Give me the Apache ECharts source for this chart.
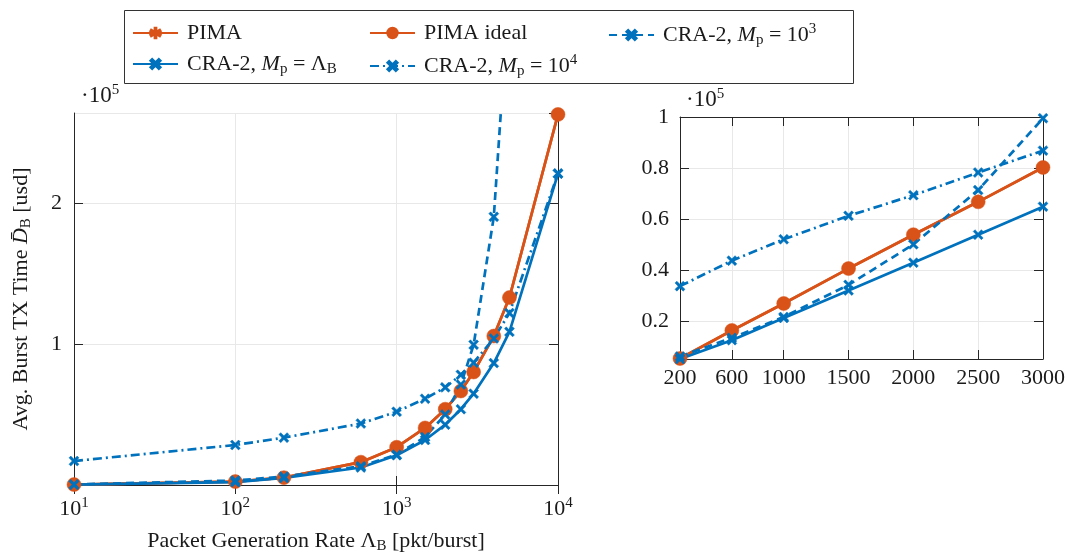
<!DOCTYPE html>
<html><head><meta charset="utf-8">
<script src="https://cdn.jsdelivr.net/npm/echarts@6/dist/echarts.min.js"></script>
<style>html,body{margin:0;padding:0;background:#fff}#c{width:1067px;height:554px}</style>
</head><body><div id="c"></div>
<script>
// ---------- data (values in units of 1e5 usd) ----------
const rates       = [10, 100, 200, 600, 1000, 1500, 2000, 2500, 3000, 4000, 5000, 10000];
const pima        = [0.003, 0.024, 0.052, 0.162, 0.268, 0.405, 0.538, 0.667, 0.802, 1.057, 1.33, 2.63];
const pimaIdeal   = [0.003, 0.024, 0.052, 0.162, 0.268, 0.405, 0.538, 0.667, 0.802, 1.057, 1.33, 2.63];
const craLambda   = [0.002, 0.020, 0.050, 0.124, 0.211, 0.319, 0.428, 0.538, 0.648, 0.865, 1.087, 2.21];
const cra1e3      = [0.004, 0.032, 0.060, 0.133, 0.215, 0.341, 0.500, 0.713, 0.995, 1.903, 3.55];
const cra1e4      = [0.170, 0.284, 0.336, 0.436, 0.520, 0.612, 0.693, 0.782, 0.868, 1.040, 1.220, 2.21];
const zoomRange   = [200, 3000];
const zoomXTicks  = [200, 600, 1000, 1500, 2000, 2500, 3000];
const zoomYTicks  = [0.2, 0.4, 0.6, 0.8, 1.0];
const leftYTicksInterval = 1;

const names = {
  pima: 'PIMA', ideal: 'PIMA ideal', c3: 'CRA-2, Mp = 10^3', cl: 'CRA-2, Mp = LambdaB', c4: 'CRA-2, Mp = 10^4'
};
const legendRich = {
  [names.pima]: 'PIMA',
  [names.ideal]: 'PIMA ideal',
  [names.c3]: 'CRA-2, {i|M}{sub|p} = 10{sup|3}',
  [names.cl]: 'CRA-2, {i|M}{sub|p} = Λ{sub|B}',
  [names.c4]: 'CRA-2, {i|M}{sub|p} = 10{sup|4}'
};

// ---------- styles ----------
const FONT = 'Liberation Serif';
const FS = 22;
const TXT = '#1a1a1a';
const AX = '#262626';
const GRIDC = '#e8e8e8';
const BLUE = '#0072BD';
const ORANGE = '#D95319';
const rich = {
  i:   {fontFamily: FONT, fontStyle: 'italic', fontSize: FS, color: TXT},
  sub: {fontFamily: FONT, fontSize: 15, color: TXT, padding: [10, 0, 0, 0]},
  sup: {fontFamily: FONT, fontSize: 15, color: TXT, padding: [0, 0, 11, 0]}
};
const CROSS = 'path://M0,1.8L1.8,0L5,3.2L8.2,0L10,1.8L6.8,5L10,8.2L8.2,10L5,6.8L1.8,10L0,8.2L3.2,5Z';
function asterisk() {
  const w = 0.8, L = 5, pts = [];
  for (let k = 0; k < 6; k++) {
    const th = (90 + 60 * k) * Math.PI / 180;
    const dx = Math.cos(th), dy = Math.sin(th), px = -dy, py = dx;
    pts.push([5 + L * dx - w * px, 5 + L * dy - w * py]);
    pts.push([5 + L * dx + w * px, 5 + L * dy + w * py]);
    const ti = th + Math.PI / 6;
    pts.push([5 + 2 * w * Math.cos(ti), 5 + 2 * w * Math.sin(ti)]);
  }
  return 'path://M' + pts.map(p => p[0].toFixed(3) + ',' + p[1].toFixed(3)).join('L') + 'Z';
}
const STAR = asterisk();

function pairs(xs, ys, lo, hi) {
  const out = [];
  for (let i = 0; i < xs.length; i++) {
    if (ys[i] === undefined) continue;
    if (lo !== undefined && (xs[i] < lo || xs[i] > hi)) continue;
    out.push([xs[i], ys[i]]);
  }
  return out;
}

const defs = [
  {name: names.pima,  ys: pima,      color: ORANGE, symbol: STAR,  size: 11, type: 'solid'},
  {name: names.ideal, ys: pimaIdeal, color: ORANGE, symbol: 'circle', size: 14, type: 'solid'},
  {name: names.c3,    ys: cra1e3,    color: BLUE,   symbol: CROSS, size: 10, type: [8, 5]},
  {name: names.cl,    ys: craLambda, color: BLUE,   symbol: CROSS, size: 10, type: 'solid'},
  {name: names.c4,    ys: cra1e4,    color: BLUE,   symbol: CROSS, size: 10, type: [9, 4, 2, 4]}
];

const series = [];
defs.forEach(d => {
  [0, 1].forEach(g => {
    series.push({
      name: d.name, type: 'line',
      xAxisIndex: g === 0 ? 0 : 2, yAxisIndex: g === 0 ? 0 : 2,
      data: g === 0 ? pairs(rates, d.ys) : pairs(rates, d.ys, zoomRange[0], zoomRange[1]),
      symbol: d.symbol, symbolSize: d.size, showAllSymbol: true,
      itemStyle: {color: d.color, borderColor: d.color, borderWidth: 0.5},
      lineStyle: {color: d.color, width: 2.7, type: d.type},
      clip: true, z: 3
    });
  });
});

const axisCommon = {
  axisLine: {show: true, lineStyle: {color: AX, width: 1}},
  axisTick: {show: true, inside: true, length: 9, lineStyle: {color: AX, width: 1}},
  axisLabel: {fontFamily: FONT, fontSize: FS, color: TXT}
};
function mirror(base, pos) {
  return Object.assign({}, base, {
    position: pos, name: '',
    axisLabel: {show: false},
    splitLine: {show: false}
  });
}

const xLeft = {
  gridIndex: 0, type: 'log', logBase: 10, min: 10, max: 10000,
  axisLine: axisCommon.axisLine, axisTick: axisCommon.axisTick,
  axisLabel: Object.assign({}, axisCommon.axisLabel, {
    margin: 11, showMinLabel: true, showMaxLabel: true,
    formatter: v => '10{sup|' + Math.round(Math.log10(v)) + '}', rich: rich
  }),
  minorTick: {show: false},
  splitLine: {show: true, lineStyle: {color: GRIDC, width: 1}},
  name: 'Packet Generation Rate Λ{sub|B} [pkt/burst]',
  nameLocation: 'middle', nameGap: 44,
  nameTextStyle: {fontFamily: FONT, fontSize: FS, color: TXT, rich: rich}
};
const yLeft = {
  gridIndex: 0, type: 'value', min: 0, max: 2.64, interval: leftYTicksInterval,
  axisLine: axisCommon.axisLine, axisTick: axisCommon.axisTick,
  axisLabel: Object.assign({}, axisCommon.axisLabel, {
    margin: 12, showMaxLabel: false,
    formatter: v => (v > 0 && Number.isInteger(v) ? String(v) : '')
  }),
  splitLine: {show: true, lineStyle: {color: GRIDC, width: 1}},
  name: 'Avg. Burst TX Time {i|D̄}{sub|B} [usd]',
  nameLocation: 'middle', nameGap: 40, nameRotate: 90,
  nameTextStyle: {fontFamily: FONT, fontSize: FS, color: TXT, rich: rich}
};
const xRight = {
  gridIndex: 1, type: 'value', min: zoomRange[0], max: zoomRange[1],
  axisLine: axisCommon.axisLine,
  axisTick: Object.assign({}, axisCommon.axisTick, {customValues: zoomXTicks}),
  axisLabel: Object.assign({}, axisCommon.axisLabel, {margin: 8, customValues: zoomXTicks,
    formatter: v => String(v)}),
  splitLine: {show: true, lineStyle: {color: GRIDC, width: 1}}
};
const yRight = {
  gridIndex: 1, type: 'value', min: 0.05, max: 1.0,
  axisLine: axisCommon.axisLine,
  axisTick: Object.assign({}, axisCommon.axisTick, {customValues: zoomYTicks}),
  axisLabel: Object.assign({}, axisCommon.axisLabel, {margin: 11, customValues: zoomYTicks,
    formatter: v => String(v)}),
  splitLine: {show: true, lineStyle: {color: GRIDC, width: 1}}
};

const legendPos = [
  {name: names.pima,  left: 132, top: 22},
  {name: names.ideal, left: 369, top: 22},
  {name: names.c3,    left: 608, top: 22},
  {name: names.cl,    left: 132, top: 53},
  {name: names.c4,    left: 369, top: 53}
];
const legends = legendPos.map(p => ({
  data: [p.name], left: p.left, top: p.top, padding: 0,
  itemWidth: 45, itemHeight: 13, itemGap: 0,
  formatter: n => legendRich[n],
  textStyle: {fontFamily: FONT, fontSize: FS, color: TXT, rich: rich, padding: [0, 0, 0, 4]}
}));

const option = {
  animation: false,
  backgroundColor: '#fff',
  grid: [
    {left: 74, top: 113, width: 484, height: 372, containLabel: false, outerBoundsMode: 'none'},
    {left: 680, top: 117, width: 363, height: 242, containLabel: false, outerBoundsMode: 'none'}
  ],
  xAxis: [xLeft, mirror(xLeft, 'top'), xRight, mirror(xRight, 'top')],
  yAxis: [yLeft, mirror(yLeft, 'right'), yRight, mirror(yRight, 'right')],
  legend: legends,
  series: series,
  graphic: [
    {type: 'rect', shape: {x: 124.5, y: 10.5, width: 729, height: 73},
     style: {fill: 'none', stroke: '#333', lineWidth: 1}, z: 1},
    {type: 'text', left: 81, top: 83,
     style: {text: '·10{sup|5}', fontFamily: FONT, fontSize: 23, fill: TXT, rich: rich}},
    {type: 'text', left: 686, top: 87,
     style: {text: '·10{sup|5}', fontFamily: FONT, fontSize: 23, fill: TXT, rich: rich}}
  ]
};
const chart = echarts.init(document.getElementById('c'), null, {renderer: 'canvas'});
chart.setOption(option);
</script></body></html>
